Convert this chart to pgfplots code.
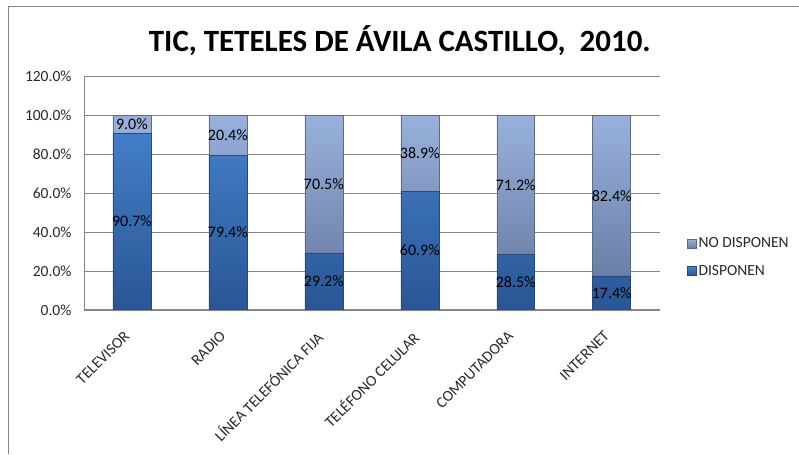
\documentclass[border=0pt]{standalone}
\usepackage{pgfplots}
\pgfplotsset{compat=1.18}
\usepackage{pgfplotstable}
\usepackage{fontspec}
\setmainfont{Carlito}

\definecolor{dispTop}{RGB}{66,126,200}
\definecolor{dispBot}{RGB}{42,86,148}
\definecolor{noTop}{RGB}{152,177,220}
\definecolor{noBot}{RGB}{106,127,166}
\definecolor{gridc}{RGB}{134,134,134}
\definecolor{txt}{RGB}{40,40,40}

% valores en porcentaje
\pgfplotstableread{
x d n
0 90.7 9.0
1 79.4 20.4
2 29.2 70.5
3 60.9 38.9
4 28.5 71.2
5 17.4 82.4
}\tic

\begin{document}
\begin{tikzpicture}[x=1pt,y=1pt]
\path (0,0) rectangle (799,454);
\draw[gridc, line width=0.8pt] (8,0) -- (8,448) -- (799,448);
\node[font=\fontsize{31}{37}\selectfont\bfseries] at (400,413) {TIC, TETELES DE ÁVILA CASTILLO,\ \ 2010.};
\begin{axis}[
  at={(84pt,144pt)}, anchor=south west,
  scale only axis, width=576pt, height=234pt,
  ybar stacked, bar width=38pt,
  xmin=-0.5, xmax=5.5, ymin=0, ymax=120,
  xtick=data,
  xticklabels={TELEVISOR, RADIO, LÍNEA TELEFÓNICA FIJA, TELÉFONO CELULAR, COMPUTADORA, INTERNET},
  ytick={0,20,40,60,80,100,120},
  /pgf/number format/assume math mode=true,
  yticklabel={\pgfmathprintnumber[fixed,fixed zerofill,precision=1]{\tick}\%},
  tick label style={font=\fontsize{15.5}{18}\selectfont, text=txt},
  yticklabel style={xshift=-9pt},
  xticklabel style={rotate=45, anchor=north east, inner sep=1pt, yshift=-7pt, xshift=-19.3pt},
  tick style={draw=none},
  axis x line*=bottom, axis y line*=left,
  axis line style={gridc, line width=0.8pt},
  ymajorgrids, grid style={gridc, line width=0.6pt},
  legend style={at={(1.042,0.224)}, anchor=west, draw=none, fill=none,
    font=\fontsize{15.5}{18}\selectfont, text=txt, row sep=12pt},
  legend cell align=left,
  reverse legend,
  legend image code/.code={\fill[#1] (0pt,-4.5pt) rectangle (9pt,4.5pt);},
  nodes near coords={\pgfmathprintnumber[fixed,fixed zerofill,precision=1]{\pgfplotspointmeta}\%},
  every node near coord/.append style={anchor=center, text=black,
    font=\fontsize{16}{19}\selectfont},
  point meta=explicit,
]
\addplot[top color=dispTop, bottom color=dispBot, draw=dispBot!85!black, line width=0.5pt]
  table[x=x, y=d, meta=d] {\tic};
\addplot[top color=noTop, bottom color=noBot, draw=noBot!85!black, line width=0.5pt]
  table[x=x, y=n, meta=n] {\tic};
\legend{DISPONEN, NO DISPONEN}
\end{axis}
\end{tikzpicture}
\end{document}
